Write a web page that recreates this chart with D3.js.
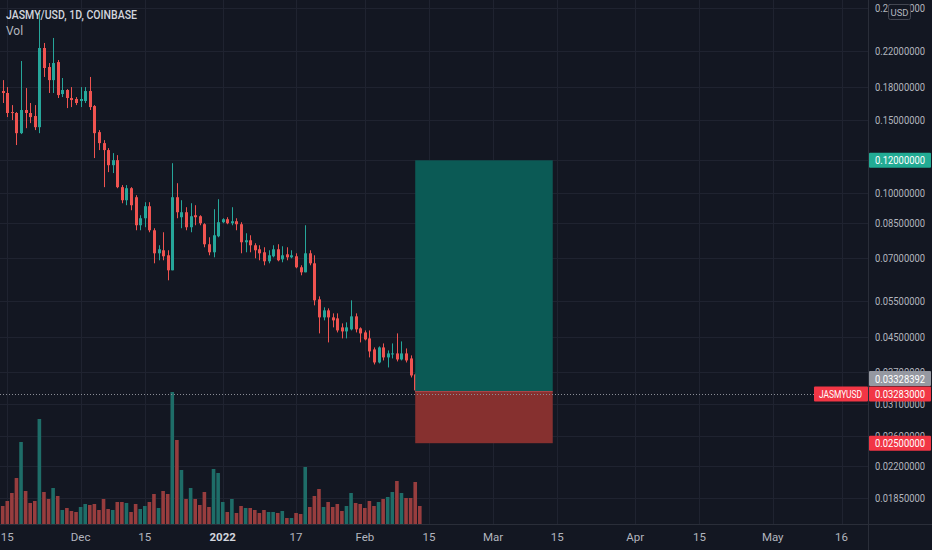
<!DOCTYPE html>
<html>
<head>
<meta charset="utf-8">
<title>JASMY/USD</title>
<script src="https://cdn.jsdelivr.net/npm/d3@7/dist/d3.min.js"></script>
<style>
html, body { margin: 0; padding: 0; background: #131722; }
svg { display: block; font-family: Roboto, "Open Sans", sans-serif; }
</style>
</head>
<body>
<svg id="chart" width="932" height="550"></svg>
<script>
// daily candles, first one is 2021-11-14
var startDay = "2021-11-14";

var open = [
  0.1762,0.1743,0.1568,0.1560,0.1395,0.1586,0.1560,0.1534,0.1442,0.2237,
  0.2013,0.1872,0.2069,0.1733,0.1772,0.1695,0.1686,0.1667,0.1667,0.1762,
  0.1621,0.1403,0.1320,0.1270,0.1168,0.1201,0.1034,0.09618,0.1028,0.09779,
  0.08372,0.08703,0.09303,0.08142,0.07166,0.07287,0.07087,0.06521,0.09779,0.08752,
  0.08998,0.08280,0.08849,0.08801,0.08419,0.07534,0.07206,0.07875,0.08513,0.08655,
  0.08465,0.08560,0.08419,0.07618,0.07703,0.07492,0.07327,0.07206,0.06855,0.07048,
  0.07327,0.06931,0.07126,0.07008,0.07048,0.06631,0.06449,0.07166,0.06779,0.05551,
  0.05023,0.05222,0.05023,0.04995,0.04752,0.04647,0.04700,0.05051,0.04726,0.04621,
  0.04470,0.04205,0.03912,0.04252,0.04023,0.04090,0.04113,0.03978,0.04113,0.04000,
  0.03661,0.03387];

var high = [
  0.1872,0.1801,0.1630,0.1568,0.2081,0.1791,0.1649,0.1630,0.2717,0.2300,
  0.2058,0.2365,0.2093,0.1894,0.1781,0.1801,0.1704,0.1801,0.1801,0.1905,
  0.1630,0.1419,0.1342,0.1284,0.1249,0.1235,0.1046,0.1046,0.1034,0.09890,
  0.08849,0.09512,0.09512,0.08234,0.07492,0.08052,0.07287,0.1181,0.1057,0.09618,
  0.09252,0.09459,0.09355,0.08849,0.08465,0.07832,0.09150,0.09671,0.08703,0.08752,
  0.09252,0.08703,0.08513,0.08008,0.07919,0.07576,0.07492,0.07409,0.07287,0.07492,
  0.07534,0.07450,0.07409,0.07287,0.07166,0.06705,0.08372,0.07287,0.07087,0.05644,
  0.05310,0.05281,0.05136,0.05136,0.04858,0.04886,0.05521,0.05136,0.04752,0.04673,
  0.04673,0.04252,0.04276,0.04347,0.04182,0.04347,0.04596,0.04396,0.04228,0.04068,
  0.03681,0.03482];

var low = [
  0.1649,0.1525,0.1500,0.1306,0.1388,0.1434,0.1475,0.1419,0.1395,0.1905,
  0.1743,0.1743,0.1695,0.1704,0.1603,0.1612,0.1630,0.1612,0.1649,0.1586,
  0.1215,0.1270,0.1034,0.1124,0.1118,0.1028,0.09459,0.09355,0.09098,0.08142,
  0.08142,0.08280,0.08052,0.06779,0.06893,0.06893,0.06169,0.06521,0.08703,0.08234,
  0.08142,0.08052,0.08372,0.08372,0.07409,0.07087,0.07008,0.07832,0.08465,0.08419,
  0.08372,0.08142,0.07166,0.07206,0.07206,0.06970,0.06893,0.06705,0.06779,0.07008,
  0.06855,0.06817,0.06893,0.06970,0.06594,0.06343,0.06449,0.06705,0.05369,0.04596,
  0.04940,0.04372,0.04752,0.04621,0.04470,0.04470,0.04673,0.04621,0.04372,0.04421,
  0.04023,0.03869,0.03891,0.03956,0.03805,0.04000,0.03934,0.03956,0.03912,0.03600,
  0.03313,0.03258];

var close = [
  0.1743,0.1560,0.1560,0.1395,0.1586,0.1560,0.1525,0.1442,0.2237,0.2002,
  0.1872,0.2058,0.1723,0.1772,0.1695,0.1676,0.1649,0.1686,0.1762,0.1612,
  0.1395,0.1320,0.1270,0.1168,0.1201,0.1034,0.09618,0.1028,0.09355,0.08372,
  0.08703,0.09303,0.08142,0.07166,0.07327,0.07048,0.06521,0.09779,0.08998,0.08998,
  0.08280,0.08801,0.08752,0.08465,0.07534,0.07206,0.07919,0.08513,0.08655,0.08465,
  0.08560,0.08419,0.07618,0.07703,0.07492,0.07287,0.07166,0.06855,0.07087,0.07327,
  0.06893,0.07087,0.07008,0.07087,0.06631,0.06449,0.07166,0.06779,0.05521,0.05023,
  0.05222,0.05023,0.04940,0.04673,0.04647,0.04752,0.05051,0.04700,0.04596,0.04445,
  0.04159,0.03912,0.04252,0.04023,0.04113,0.04113,0.03978,0.04113,0.03956,0.03640,
  0.03350,0.03283];

// volume, millions
var volume = [
  180,230,310,460,820,330,210,230,1050,320,
  250,360,280,140,160,130,120,170,200,190,
  200,140,250,150,140,220,220,210,120,200,
  150,180,220,300,160,330,300,1320,840,540,
  250,360,250,190,320,170,550,510,220,120,
  250,110,180,160,160,140,110,140,120,120,
  110,130,60,60,110,100,570,170,280,350,
  170,220,170,200,130,180,310,210,200,160,
  230,180,220,250,270,320,430,310,260,260,
  420,180];

var priceTicks = [0.28, 0.22, 0.18, 0.15, 0.12, 0.10, 0.085, 0.07, 0.055, 0.045, 0.037, 0.031, 0.026, 0.022, 0.0185];
var timeTicks = ["2021-11-15","2021-12-01","2021-12-15","2022-01-01","2022-01-17","2022-02-01","2022-02-15",
                 "2022-03-01","2022-03-15","2022-04-01","2022-04-15","2022-05-01","2022-05-16"];
var timeLabels = ["15","Dec","15","2022","17","Feb","15","Mar","15","Apr","15","May","16"];

// long position tool
var posStart = "2022-02-12", posEnd = "2022-03-14";
var target = 0.12, entry = 0.03328392, stop = 0.025;
var lastPrice = 0.03283;

var W = 932, H = 550, plotR = 868, plotB = 524;
var UP = "#26a69a", DOWN = "#ef5350";

var parse = d3.utcParse("%Y-%m-%d");
var t0 = parse(startDay);
var days = open.map(function(d, i) { return d3.utcDay.offset(t0, i); });

var x = d3.scaleUtc()
  .domain([t0, parse("2022-05-16")])
  .range([2.7, 841.5]);
var y = d3.scaleLog()
  .domain([0.22, 0.0185])
  .range([51, 497.5]);
var yv = d3.scaleLinear()
  .domain([0, d3.max(volume)])
  .range([plotB, 392]);

var svg = d3.select("#chart");
svg.append("rect").attr("width", W).attr("height", H).attr("fill", "#131722");

var plot = svg.append("g");
plot.append("clipPath").attr("id", "clip")
  .append("rect").attr("width", plotR).attr("height", plotB);
var inner = plot.append("g").attr("clip-path", "url(#clip)");

// grid
inner.selectAll(".hg").data(priceTicks).enter().append("line")
  .attr("x1", 0).attr("x2", plotR)
  .attr("y1", function(d) { return Math.round(y(d)) + 0.5; })
  .attr("y2", function(d) { return Math.round(y(d)) + 0.5; })
  .attr("stroke", "#1f2330");
inner.selectAll(".vg").data(timeTicks).enter().append("line")
  .attr("y1", 0).attr("y2", plotB)
  .attr("x1", function(d) { return Math.round(x(parse(d))) + 0.5; })
  .attr("x2", function(d) { return Math.round(x(parse(d))) + 0.5; })
  .attr("stroke", "#1f2330");

// volume
inner.selectAll(".vol").data(volume).enter().append("rect")
  .attr("x", function(d, i) { return x(days[i]) - 1.8; })
  .attr("width", 3.6)
  .attr("y", function(d) { return yv(d); })
  .attr("height", function(d) { return plotB - yv(d); })
  .attr("fill", function(d, i) { return close[i] >= open[i] ? "#1e6d68" : "#973d3e"; });

// candles
var cg = inner.selectAll(".c").data(open).enter().append("g");
cg.append("line")
  .attr("x1", function(d, i) { return Math.round(x(days[i])) + 0.5; })
  .attr("x2", function(d, i) { return Math.round(x(days[i])) + 0.5; })
  .attr("y1", function(d, i) { return y(high[i]); })
  .attr("y2", function(d, i) { return y(low[i]); })
  .attr("stroke", function(d, i) { return close[i] >= open[i] ? UP : DOWN; })
  .attr("stroke-width", 1);
cg.append("rect")
  .attr("x", function(d, i) { return Math.round(x(days[i])) - 1; })
  .attr("width", 3)
  .attr("y", function(d, i) { return y(Math.max(open[i], close[i])); })
  .attr("height", function(d, i) { return Math.max(1, Math.abs(y(open[i]) - y(close[i]))); })
  .attr("fill", function(d, i) { return close[i] >= open[i] ? UP : DOWN; });

// position box
var px0 = x(parse(posStart)), px1 = x(parse(posEnd));
inner.append("rect")
  .attr("x", px0).attr("width", px1 - px0)
  .attr("y", y(target)).attr("height", y(entry) - y(target))
  .attr("fill", "#0b5a55");
inner.append("rect")
  .attr("x", px0).attr("width", px1 - px0)
  .attr("y", y(entry)).attr("height", y(stop) - y(entry))
  .attr("fill", "#86302f");
inner.append("line")
  .attr("x1", px0).attr("x2", px1)
  .attr("y1", y(entry)).attr("y2", y(entry))
  .attr("stroke", "#b0474a").attr("stroke-width", 1);

// last price line
inner.append("line")
  .attr("x1", 0).attr("x2", plotR)
  .attr("y1", Math.round(y(lastPrice)) + 0.5).attr("y2", Math.round(y(lastPrice)) + 0.5)
  .attr("stroke", "#8a8d96").attr("stroke-dasharray", "1,2");

// borders
svg.append("line").attr("x1", plotR + 0.5).attr("x2", plotR + 0.5).attr("y1", 0).attr("y2", H)
  .attr("stroke", "#2a2e39");
svg.append("line").attr("x1", 0).attr("x2", W).attr("y1", plotB + 0.5).attr("y2", plotB + 0.5)
  .attr("stroke", "#2a2e39");

// price axis
var fmt = d3.format(".8f");
svg.selectAll(".pl").data(priceTicks).enter().append("text")
  .attr("x", 875).attr("y", function(d) { return y(d) + 4; })
  .attr("font-size", 10).attr("fill", "#b2b5be")
  .attr("textLength", 50).attr("lengthAdjust", "spacingAndGlyphs")
  .text(function(d) { return fmt(d); });

function priceBadge(v, cy, bg) {
  svg.append("rect").attr("x", plotR + 1).attr("y", cy - 7.5).attr("width", 62).attr("height", 15)
    .attr("fill", bg).attr("rx", 1);
  svg.append("text").attr("x", 875).attr("y", cy + 4)
    .attr("font-size", 10).attr("fill", "#ffffff")
    .attr("textLength", 50).attr("lengthAdjust", "spacingAndGlyphs")
    .text(fmt(v));
}
priceBadge(target, y(target), "#22ab94");
priceBadge(entry, y(entry) - 13, "#9598a1");
priceBadge(lastPrice, y(lastPrice), "#f23645");
priceBadge(stop, y(stop), "#f23645");

svg.append("rect").attr("x", 814).attr("y", y(lastPrice) - 7.5).attr("width", 54).attr("height", 15)
  .attr("fill", "#f23645").attr("rx", 1);
svg.append("text").attr("x", 819).attr("y", y(lastPrice) + 4)
  .attr("font-size", 10).attr("fill", "#ffffff")
  .attr("textLength", 43).attr("lengthAdjust", "spacingAndGlyphs")
  .text("JASMYUSD");

// USD badge
svg.append("rect").attr("x", 888.5).attr("y", 4.5).attr("width", 22).attr("height", 15)
  .attr("fill", "#131722").attr("stroke", "#434651").attr("rx", 2);
svg.append("text").attr("x", 899.5).attr("y", 16).attr("text-anchor", "middle")
  .attr("font-size", 9.5).attr("fill", "#b2b5be").text("USD");

// time axis
svg.selectAll(".tl").data(timeTicks).enter().append("text")
  .attr("x", function(d) { return x(parse(d)); })
  .attr("y", 541)
  .attr("text-anchor", "middle")
  .attr("font-size", 11.5)
  .attr("font-weight", function(d, i) { return timeLabels[i] === "2022" ? 700 : 400; })
  .attr("fill", function(d, i) { return timeLabels[i] === "2022" ? "#d1d4dc" : "#b2b5be"; })
  .text(function(d, i) { return timeLabels[i]; });

// legend
svg.append("text").attr("x", 6).attr("y", 19)
  .attr("font-size", 12).attr("font-weight", 500).attr("fill", "#d1d4dc")
  .attr("textLength", 131).attr("lengthAdjust", "spacingAndGlyphs")
  .text("JASMY/USD, 1D, COINBASE");
svg.append("text").attr("x", 6).attr("y", 35)
  .attr("font-size", 12).attr("fill", "#b2b5be")
  .text("Vol");
</script>
</body>
</html>
